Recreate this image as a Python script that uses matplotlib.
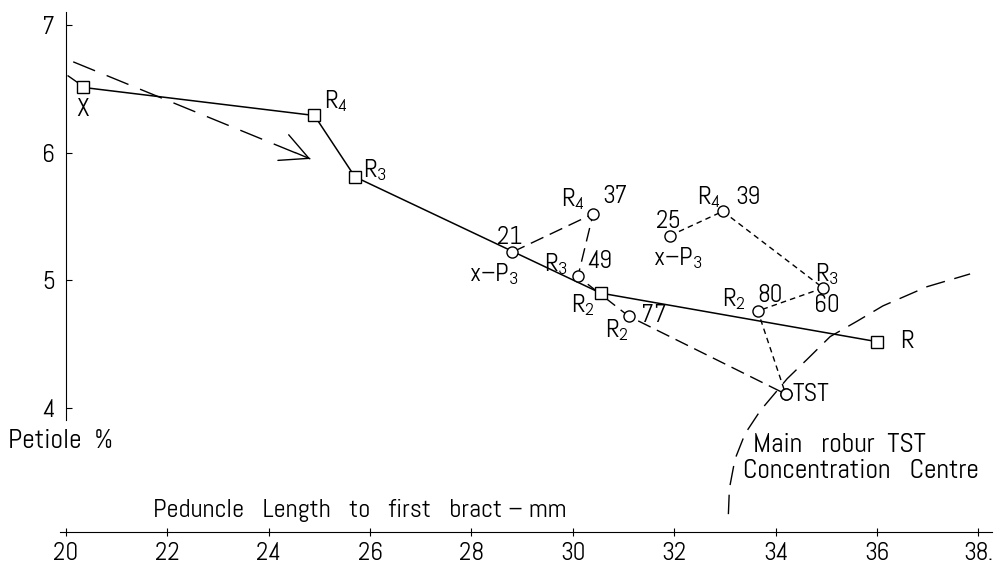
import matplotlib
matplotlib.use('Agg')
from matplotlib import pyplot as plt

plt.rcParams['font.family'] = ['Abel', 'DejaVu Sans']
plt.rcParams['mathtext.fontset'] = 'custom'
plt.rcParams['mathtext.rm'] = 'Abel'
plt.rcParams['mathtext.it'] = 'Abel'

# squares - main solid line
sq_x = [20.33, 24.9, 25.7, 30.55, 36.0]
sq_y = [6.51, 6.29, 5.81, 4.90, 4.52]
sq_lab = ['X', 'R$_4$', 'R$_3$', 'R$_2$', 'R']

# circles, first series (long dashes)
c1_x = [28.8, 30.4, 30.1, 31.1, 34.2]
c1_y = [5.22, 5.52, 5.03, 4.72, 4.11]
c1_lab = ['x\u2013P$_3$', 'R$_4$', 'R$_3$', 'R$_2$', 'TST']
c1_num = ['21', '37', '49', '77', '']

# circles, second series (short dashes)
c2_x = [31.92, 32.96, 34.94, 33.65, 34.2]
c2_y = [5.35, 5.54, 4.94, 4.76, 4.11]
c2_lab = ['x\u2013P$_3$', 'R$_4$', 'R$_3$', 'R$_2$', '']
c2_num = ['25', '39', '60', '80', '']

# trend arrow
arr_x = [20.14, 24.82]
arr_y = [6.71, 5.95]
stub_x = [20.04, 20.22]
stub_y = [6.60, 6.55]

# concentration centre boundary
bd_x = [33.07, 33.09, 33.20, 33.40, 33.70, 34.23, 34.62, 35.08, 35.61, 36.12, 36.99, 37.84]
bd_y = [3.17, 3.37, 3.60, 3.80, 3.98, 4.23, 4.38, 4.56, 4.68, 4.80, 4.95, 5.05]

xticks = [20, 22, 24, 26, 28, 30, 32, 34, 36, 38]
xtick_lab = ['20', '22', '24', '26', '28', '30', '32', '34', '36', '38.']
yticks = [4, 5, 6, 7]

fig = plt.figure(figsize=(10.02, 5.66), dpi=100)
ax = fig.add_axes([0.0599, 0.0600, 0.930, 0.9188])
ax.set_xlim(19.88, 38.27)
ax.set_ylim(3.03, 7.10)

fs = 19

# lines
ax.plot(bd_x, bd_y, color='black', lw=1.0, dashes=(14, 7))
ax.plot(arr_x, arr_y, color='black', lw=1.0, dashes=(17, 9))
ax.plot(stub_x, stub_y, color='black', lw=1.0)
ax.annotate('', xy=(arr_x[1], arr_y[1]), xytext=(arr_x[1] - 0.3, arr_y[1] + 0.05),
            arrowprops=dict(arrowstyle='->, head_length=0.8, head_width=0.4',
                            lw=1.0, color='black', mutation_scale=25, shrinkA=0, shrinkB=0))
ax.plot(c1_x, c1_y, color='black', lw=1.0, dashes=(10, 5))
ax.plot(c2_x, c2_y, color='black', lw=1.0, dashes=(4, 3))
ax.plot(sq_x, sq_y, color='black', lw=1.1)

ax.plot(sq_x, sq_y, 's', ms=9, mfc='white', mec='black', mew=1.0)
ax.plot(c1_x, c1_y, 'o', ms=8, mfc='white', mec='black', mew=1.0)
ax.plot(c2_x, c2_y, 'o', ms=8, mfc='white', mec='black', mew=1.0)

def lab(txt, x, y, dx, dy, ha='center', size=fs):
    ax.annotate(txt, (x, y), xytext=(dx, dy), textcoords='offset pixels',
                ha=ha, va='center', fontsize=size)

# square labels
sq_off = [(0, -22), (22, 14), (20, 7), (-18, -12), (30, 0)]
for t, x, y, o in zip(sq_lab, sq_x, sq_y, sq_off):
    lab(t, x, y, o[0], o[1])

c1_off = [(-18, -22), (-20, 15), (-22, 12), (-12, -14), (7, 0)]
c1_noff = [(-2, 15), (22, 17), (22, 15), (25, 1), (0, 0)]
for i in range(5):
    ha = 'left' if c1_lab[i] == 'TST' else 'center'
    lab(c1_lab[i], c1_x[i], c1_y[i], c1_off[i][0], c1_off[i][1], ha=ha)
    if c1_num[i]:
        lab(c1_num[i], c1_x[i], c1_y[i], c1_noff[i][0], c1_noff[i][1], size=18)

c2_off = [(8, -22), (-14, 14), (4, 14), (-24, 12)]
c2_noff = [(-2, 14), (25, 14), (4, -18), (12, 15)]
for i in range(4):
    lab(c2_lab[i], c2_x[i], c2_y[i], c2_off[i][0], c2_off[i][1])
    lab(c2_num[i], c2_x[i], c2_y[i], c2_noff[i][0], c2_noff[i][1], size=18)

# axes styling
for s in ['top', 'right']:
    ax.spines[s].set_visible(False)
ax.spines['left'].set_position(('data', 20))
ax.spines['left'].set_bounds(3.91, 7.1)
ax.set_xticks(xticks)
ax.set_xticklabels(xtick_lab, fontsize=18)
ax.set_yticks(yticks)
ax.set_yticklabels([str(v) for v in yticks], fontsize=18)
ax.tick_params(axis='x', direction='inout', length=6, pad=4)
ax.tick_params(axis='y', direction='in', length=4, pad=8)

fig.text(8 / 1002, 1 - 441 / 566, 'Petiole  %', fontsize=20, va='center', ha='left')
fig.text(753 / 1002, 1 - 445 / 566, 'Main   robur  TST', fontsize=20, va='center', ha='left')
fig.text(743 / 1002, 1 - 471 / 566, 'Concentration   Centre', fontsize=20, va='center', ha='left')
fig.text(153 / 1002, 1 - 511 / 566, 'Peduncle   Length   to   first   bract \u2013 mm', fontsize=fs,
         va='center', ha='left')

fig.savefig('out.png', dpi=100)
